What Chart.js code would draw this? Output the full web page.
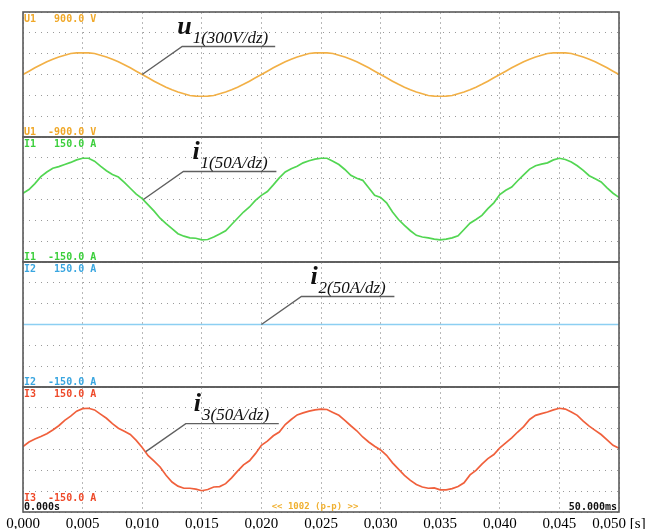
<!DOCTYPE html>
<html><head><meta charset="utf-8">
<script src="https://cdn.jsdelivr.net/npm/chart.js@4"></script>
<style>
html,body{margin:0;padding:0;background:#fff;width:646px;height:529px;overflow:hidden}
canvas{position:absolute;left:0;top:0}
</style></head><body>
<canvas id="c0" width="646" height="529"></canvas>
<canvas id="c1" width="646" height="529"></canvas>
<canvas id="c2" width="646" height="529"></canvas>
<canvas id="c3" width="646" height="529"></canvas>
<script>
const sampleStepS = 0.0005;
const timeS = Array.from({length: 101}, (_, i) => +(i * sampleStepS).toFixed(4));

const u1V = [0,48,96,142,183,220,252,278,302,311,313,311,302,278,252,220,183,142,96,48,
  0,-48,-96,-142,-183,-220,-252,-278,-302,-311,-313,-311,-302,-278,-252,-220,-183,-142,-96,-48,
  0,48,96,142,183,220,252,278,302,311,313,311,302,278,252,220,183,142,96,48,
  0,-48,-96,-142,-183,-220,-252,-278,-302,-311,-313,-311,-302,-278,-252,-220,-183,-142,-96,-48,
  0,48,96,142,183,220,252,278,302,311,313,311,302,278,252,220,183,142,96,48,0];

const i1A = [15,24,38,55,66,75,79,84,89,95,99,99,92,80,69,60,54,41,27,13,
  2,-13,-28,-45,-58,-70,-82,-88,-92,-93,-97,-96,-90,-83,-75,-60,-45,-30,-18,-2,
  10,19,35,52,66,74,80,88,93,97,99,99,92,84,72,58,51,46,28,10,
  5,-8,-30,-48,-62,-75,-86,-90,-92,-95,-97,-95,-92,-87,-72,-57,-48,-38,-22,-8,
  12,22,30,45,59,73,81,85,88,95,99,96,90,81,70,57,50,42,28,15,5];

const i2A = [0,0,0,0,0,0,0,0,0,0,0,0,0,0,0,0,0,0,0,0,
  0,0,0,0,0,0,0,0,0,0,0,0,0,0,0,0,0,0,0,0,
  0,0,0,0,0,0,0,0,0,0,0,0,0,0,0,0,0,0,0,0,
  0,0,0,0,0,0,0,0,0,0,0,0,0,0,0,0,0,0,0,0,
  0,0,0,0,0,0,0,0,0,0,0,0,0,0,0,0,0,0,0,0,0];

const i3A = [7,18,25,31,38,47,57,70,80,92,98,99,95,85,75,62,51,44,36,22,
  5,-15,-28,-42,-62,-78,-88,-93,-93,-95,-99,-96,-90,-89,-82,-68,-52,-37,-27,-10,
  10,20,33,42,60,72,83,88,92,95,97,96,89,82,70,57,45,30,18,8,
  -1,-14,-32,-47,-62,-74,-84,-90,-93,-92,-97,-97,-94,-89,-80,-61,-50,-35,-22,-12,
  4,16,28,42,55,72,82,86,90,95,99,97,90,82,68,56,46,36,23,10,3];

const xTickLabels = ['0,000','0,005','0,010','0,015','0,020','0,025','0,030','0,035','0,040','0,045','0,050 [s]'];
const channelNames = ['U1','I1','I2','I3'];
const channelFullScale = [900, 150, 150, 150];
const channelUnits = ['V','A','A','A'];
const annotationMain = ['u','i','i','i'];
const annotationSub = ['1(300V/dz)','1(50A/dz)','2(50A/dz)','3(50A/dz)'];
const annotationAnchorT = [0.010, 0.0101, 0.020, 0.0103];
const annotationAnchorV = [0, 0, 0, -5];
const footerLeft = '0.000s';
const footerRight = '50.000ms';
const footerCenter = '<< 1002 (p-p) >>';

// ---- styling / layout ----
const series = [u1V, i1A, i2A, i3A];
const traceColors = ['#f2b046', '#52d652', '#8ccff2', '#f0603c'];
const labelColors = ['#f0a828', '#3ccf3c', '#3aa6e0', '#ee4a2a'];
const plotLeft = 23, plotRight = 619, panelH = 125, firstTop = 12, W = 646, H = 529;
const xAxisH = 17;
const mainDx = [-5, 9, 9, 8];

function fmtRange(v, unit) { return (v >= 0 ? ' ' : '') + v.toFixed(1) + ' ' + unit; }

function panelPlugin(k) {
  return {
    id: 'panel' + k,
    afterDraw(chart) {
      const ctx = chart.ctx, a = chart.chartArea;
      const xs = chart.scales.x, ys = chart.scales.y;
      ctx.save();
      // frame
      ctx.strokeStyle = '#5a5a5a';
      ctx.lineWidth = 1.6;
      ctx.setLineDash([]);
      ctx.strokeRect(a.left, a.top, a.right - a.left, a.bottom - a.top);
      // channel labels
      ctx.font = 'bold 10px "DejaVu Sans Mono"';
      ctx.fillStyle = labelColors[k];
      ctx.textBaseline = 'alphabetic';
      ctx.textAlign = 'left';
      const fs = channelFullScale[k];
      ctx.fillText(channelNames[k] + '  ' + fmtRange(fs, channelUnits[k]), a.left + 1, a.top + 10);
      const botY = (k === 3) ? a.bottom - 11 : a.bottom - 2;
      ctx.fillText(channelNames[k] + '  ' + fmtRange(-fs, channelUnits[k]), a.left + 1, botY);
      if (k === 3) {
        ctx.fillStyle = '#111';
        ctx.fillText(footerLeft, a.left + 1, a.bottom - 2);
        ctx.textAlign = 'right';
        ctx.fillText(footerRight, a.right - 2, a.bottom - 2);
        ctx.textAlign = 'center';
        ctx.fillStyle = '#f0b030';
        ctx.font = 'bold 9px "DejaVu Sans Mono"';
        ctx.fillText(footerCenter, xs.getPixelForValue(0.0245), a.bottom - 3);
      }
      // annotation leader
      const ax = xs.getPixelForValue(annotationAnchorT[k]);
      const ay = ys.getPixelForValue(annotationAnchorV[k]);
      const ex = ax + 40, ey = ay - 28;
      ctx.strokeStyle = '#606060';
      ctx.lineWidth = 1.4;
      ctx.beginPath();
      ctx.moveTo(ax, ay); ctx.lineTo(ex, ey); ctx.lineTo(ex + 93, ey);
      ctx.stroke();
      ctx.fillStyle = '#111';
      ctx.textAlign = 'left';
      ctx.font = 'italic bold 26px "Liberation Serif"';
      const mx = ex + mainDx[k];
      ctx.fillText(annotationMain[k], mx, ey - 13);
      const mw = ctx.measureText(annotationMain[k]).width;
      ctx.font = 'italic 17px "Liberation Serif"';
      ctx.fillText(annotationSub[k], mx + mw + 1, ey - 4);
      ctx.restore();
    }
  };
}

const charts = [];
for (let k = 0; k < 4; k++) {
  const top = firstTop + k * panelH;
  const fs = channelFullScale[k];
  const isLast = k === 3;
  charts.push(new Chart(document.getElementById('c' + k), {
    type: 'line',
    data: {
      datasets: [{
        data: timeS.map((t, i) => ({x: t, y: series[k][i]})),
        borderColor: traceColors[k],
        borderWidth: 1.7,
        pointRadius: 0,
        tension: 0,
        fill: false
      }]
    },
    options: {
      responsive: false,
      animation: false,
      devicePixelRatio: 1,
      layout: {padding: {left: plotLeft, right: W - plotRight, top: top,
        bottom: H - top - panelH - (isLast ? xAxisH : 0)}},
      plugins: {legend: {display: false}, tooltip: {enabled: false}},
      scales: {
        x: {
          type: 'linear', min: 0, max: 0.05,
          ticks: {
            stepSize: 0.005, display: isLast, autoSkip: false, maxRotation: 0, padding: 3,
            color: '#000', font: {family: '"Liberation Serif"', size: 15},
            callback: v => xTickLabels[Math.round(v / 0.005)]
          },
          grid: {color: '#b8b8b8', drawTicks: false, lineWidth: 1},
          border: {display: false, dash: [2, 3]},
          afterFit: s => { s.height = isLast ? xAxisH : 0; s.paddingLeft = 0; s.paddingRight = 0; }
        },
        y: {
          min: -fs, max: fs,
          ticks: {stepSize: fs / 3, display: false},
          grid: {color: '#9a9a9a', drawTicks: false, lineWidth: 1},
          border: {display: false, dash: [1, 5]},
          afterFit: s => { s.width = 0; s.paddingTop = 0; s.paddingBottom = 0; }
        }
      }
    },
    plugins: [panelPlugin(k)]
  }));
}
</script>
</body></html>
